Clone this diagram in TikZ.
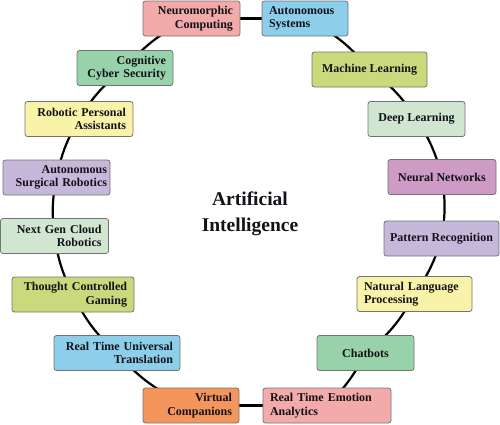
\documentclass[tikz,border=0pt]{standalone}
\usepackage{fontspec}
\setmainfont{Liberation Serif}
\usetikzlibrary{backgrounds}
\definecolor{cpink}{HTML}{F3AAAA}
\definecolor{cblue}{HTML}{8DCFEA}
\definecolor{cyg}{HTML}{CAD97C}
\definecolor{cpg}{HTML}{D0E6D0}
\definecolor{cmauve}{HTML}{CD9BC6}
\definecolor{clav}{HTML}{C6B8DA}
\definecolor{cyel}{HTML}{F8F3A8}
\definecolor{cgreen}{HTML}{98D2AA}
\definecolor{corange}{HTML}{F4955B}
\definecolor{ctext}{HTML}{121218}
\tikzset{
  box/.style={draw=black!55, line width=0.8pt, rounded corners=2.5pt,
    minimum height=35, inner xsep=6pt, inner ysep=2pt,
    font=\bfseries\fontsize{12}{13.5}\selectfont, text=ctext},
  link/.style={line width=2.2pt, black},
}
\begin{document}
\begin{tikzpicture}[x=1pt,y=-1pt]
\useasboundingbox (0,0) rectangle (500,424);
\node[box, fill=cpink, minimum width=97, text width=83, align=right] (neuro) at (191.5,18.5) {Neuromorphic\\Computing};
\node[box, fill=cblue, minimum width=86, text width=72, align=left] (autosys) at (305,18.5) {Autonomous\\Systems};
\node[box, fill=cyg, minimum width=115, align=center] (ml) at (369.5,69.5) {Machine Learning};
\node[box, fill=cpg, minimum width=97, align=center] (dl) at (416.5,119) {Deep Learning};
\node[box, fill=cmauve, minimum width=108, align=center] (nn) at (442,177) {Neural Networks};
\node[box, fill=clav, minimum width=115, align=center] (pr) at (441.5,238.5) {Pattern Recognition};
\node[box, fill=cyel, minimum width=115, text width=101, align=left] (nlp) at (414.5,294) {Natural Language\\Processing};
\node[box, fill=cgreen, minimum width=97, align=center] (chat) at (365.5,353) {Chatbots};
\node[box, fill=cpink, minimum width=128, text width=114, align=left] (emo) at (327,405.5) {Real Time Emotion\\Analytics};
\node[box, fill=corange, minimum width=96, text width=82, align=right] (virt) at (191,405.5) {Virtual\\Companions};
\node[box, fill=cblue, minimum width=126, text width=112, align=right] (trans) at (117,353) {Real Time Universal\\Translation};
\node[box, fill=cyg, minimum width=122, text width=108, align=right] (game) at (73,294.5) {Thought Controlled\\Gaming};
\node[box, fill=cpg, minimum width=108, text width=94, align=right] (next) at (54.5,236) {Next Gen Cloud\\Robotics};
\node[box, fill=clav, minimum width=107, inner xsep=3pt, text width=101, align=right] (surg) at (56.5,177.5) {Autonomous\\Surgical Robotics};
\node[box, fill=cyel, minimum width=108, text width=94, align=right] (robo) at (79,119) {Robotic Personal\\Assistants};
\node[box, fill=cgreen, minimum width=96, text width=82, align=right] (cog) at (125,68) {Cognitive\\Cyber Security};
\node[font=\bfseries\fontsize{19.5}{26}\selectfont, text=ctext, align=center] (ai) at (250,214) {Artificial\\Intelligence};
\begin{scope}[on background layer]
\draw[link] (neuro.center) -- (autosys.center);
\draw[link] (autosys.center) to[bend left=12] (ml.center);
\draw[link] (ml.center) to[bend left=10] (dl.center);
\draw[link] (dl.center) to[bend left=9] (nn.center);
\draw[link] (nn.center) to[bend left=9] (pr.center);
\draw[link] (pr.center) to[bend left=9] (nlp.center);
\draw[link] (nlp.center) to[bend left=12] (chat.center);
\draw[link] (chat.center) to[bend left=9] (emo.center);
\draw[link] (emo.center) -- (virt.center);
\draw[link] (virt.center) to[bend left=13] (trans.center);
\draw[link] (trans.center) to[bend left=11] (game.center);
\draw[link] (game.center) to[bend left=9] (next.center);
\draw[link] (next.center) to[bend left=9] (surg.center);
\draw[link] (surg.center) to[bend left=9] (robo.center);
\draw[link] (robo.center) to[bend left=10] (cog.center);
\draw[link] (cog.center) to[bend left=12] (neuro.center);
\end{scope}
\end{tikzpicture}
\end{document}
